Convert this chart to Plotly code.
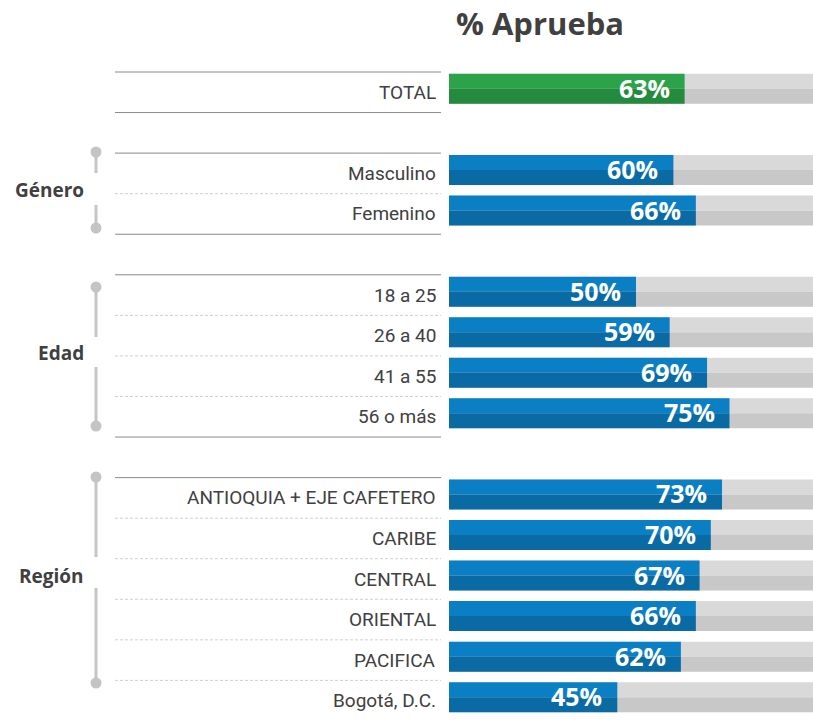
import plotly.graph_objects as go

# ---------------- data ----------------
title_text = "% Aprueba"
total_label = ["TOTAL"]
total_value = [63]

genero_labels = ["Masculino", "Femenino"]
genero_values = [60, 66]

edad_labels = ["18 a 25", "26 a 40", "41 a 55", "56 o más"]
edad_values = [50, 59, 69, 75]

region_labels = ["ANTIOQUIA + EJE CAFETERO", "CARIBE", "CENTRAL", "ORIENTAL", "PACIFICA", "Bogotá, D.C."]
region_values = [73, 70, 67, 66, 62, 45]

group_names = ["", "Género", "Edad", "Región"]
groups = [(total_label, total_value), (genero_labels, genero_values),
          (edad_labels, edad_values), (region_labels, region_values)]

# ---------------- layout constants ----------------
W, H = 813, 720
X0_PX = 449          # page pixel where 0 % sits
PX_UNIT = 374        # pixels for 100 %
TOP_PX = 70          # page pixel of plot top
ROW_PX = 40.56
x_range = [-X0_PX / PX_UNIT, (W - X0_PX) / PX_UNIT]
y_top = -0.5 - (72 - TOP_PX) / ROW_PX
y_bot = y_top + (H - TOP_PX) / ROW_PX


def px_to_x(p):
    return (p - X0_PX) / PX_UNIT


def px_to_row(p):
    return (p - 72) / ROW_PX - 0.5


# build rows
rows, labels, values, is_total = [], [], [], []
group_spans = []
r = 0
for gi, (labs, vals) in enumerate(groups):
    start = r
    for lab, v in zip(labs, vals):
        rows.append(r)
        labels.append(lab)
        values.append(v / 100)
        is_total.append(gi == 0)
        r += 1
    group_spans.append((start, r - 1))
    r += 1  # blank row between groups

SHIFT = -0.085
HALF = 15 / ROW_PX

GREY_TOP, GREY_BOT = "#d9d9d9", "#c8c8c8"
BLUE_TOP, BLUE_BOT = "#0a7fc3", "#0a6aa4"
GREEN_TOP, GREEN_BOT = "#2ca34b", "#238a3e"

top_colors = [GREEN_TOP if t else BLUE_TOP for t in is_total]
bot_colors = [GREEN_BOT if t else BLUE_BOT for t in is_total]

fig = go.Figure()

# background grey bars (100 %)
fig.add_trace(go.Bar(y=rows, x=[1] * len(rows), orientation="h",
                     width=HALF, offset=SHIFT - HALF,
                     marker=dict(color=GREY_TOP, line=dict(width=0)),
                     hoverinfo="skip", showlegend=False))
fig.add_trace(go.Bar(y=rows, x=[1] * len(rows), orientation="h",
                     width=HALF, offset=SHIFT,
                     marker=dict(color=GREY_BOT, line=dict(width=0)),
                     hoverinfo="skip", showlegend=False))
# value bars
fig.add_trace(go.Bar(y=rows, x=values, orientation="h",
                     width=HALF, offset=SHIFT - HALF,
                     marker=dict(color=top_colors, line=dict(width=0)),
                     hoverinfo="skip", showlegend=False))
fig.add_trace(go.Bar(y=rows, x=values, orientation="h",
                     width=HALF, offset=SHIFT,
                     marker=dict(color=bot_colors, line=dict(width=0)),
                     hoverinfo="skip", showlegend=False))

annotations = []
shapes = []

# percentage labels and row labels
for y, lab, v in zip(rows, labels, values):
    annotations.append(dict(x=v, y=y + SHIFT, xref="x", yref="y",
                            text=f"{round(v * 100)}%", showarrow=False,
                            xanchor="right", yanchor="middle", xshift=-13, yshift=1,
                            font=dict(family="Open Sans", size=25, color="white", weight="bold")))
    annotations.append(dict(x=px_to_x(438), y=y, xref="x", yref="y",
                            text=lab, showarrow=False,
                            xanchor="right", yanchor="middle",
                            font=dict(family="Roboto", size=19, color="#404040")))

# group separator lines
x_l, x_r = px_to_x(115), px_to_x(441)
for (s, e) in group_spans:
    for b in (s - 0.5, e + 0.5):
        shapes.append(dict(type="line", xref="x", yref="y", x0=x_l, x1=x_r, y0=b, y1=b,
                           line=dict(color="#8a8a8a", width=1)))
    for k in range(s, e):
        shapes.append(dict(type="line", xref="x", yref="y", x0=x_l, x1=x_r, y0=k + 0.5, y1=k + 0.5,
                           line=dict(color="#cfcfcf", width=1, dash="3px,2px")))

# group brackets (page pixel positions)
bracket_px = {
    "Género": (152, 173, 205, 228, 190),
    "Edad": (287, 337, 367, 426, 353),
    "Región": (477, 557, 588, 683, 576),
}
vx = px_to_x(96)
dot_y = []
for name in group_names[1:]:
    t, g1, g2, b, lab_y = bracket_px[name]
    shapes.append(dict(type="line", xref="x", yref="y", x0=vx, x1=vx,
                       y0=px_to_row(t), y1=px_to_row(g1), line=dict(color="#c4c4c4", width=3)))
    shapes.append(dict(type="line", xref="x", yref="y", x0=vx, x1=vx,
                       y0=px_to_row(g2), y1=px_to_row(b), line=dict(color="#c4c4c4", width=3)))
    dot_y += [px_to_row(t), px_to_row(b)]
    annotations.append(dict(x=px_to_x(86), y=px_to_row(lab_y), xref="x", yref="y",
                            text=name, showarrow=False, xanchor="right", yanchor="middle",
                            font=dict(family="Open Sans", size=19, color="#404040", weight="bold")))

fig.add_trace(go.Scatter(x=[vx] * len(dot_y), y=dot_y, mode="markers",
                         marker=dict(size=11, color="#c4c4c4"), cliponaxis=False,
                         hoverinfo="skip", showlegend=False))

fig.update_layout(
    width=W, height=H,
    margin=dict(l=0, r=0, t=TOP_PX, b=0, pad=0),
    paper_bgcolor="white", plot_bgcolor="white",
    barmode="overlay",
    title=dict(text=f"<b>{title_text}</b>", x=540 / W, xanchor="center",
               y=1 - 24 / H, yanchor="middle",
               font=dict(family="Open Sans", size=31, color="#404040")),
    xaxis=dict(range=x_range, visible=False, fixedrange=True),
    yaxis=dict(range=[y_bot, y_top], visible=False, fixedrange=True),
    annotations=annotations,
    shapes=shapes,
    showlegend=False,
    hovermode=False,
)

fig.write_html("out.html",
               config={"displayModeBar": False, "staticPlot": True},
               post_script="document.body.style.margin='0';document.body.style.overflow='hidden';")
